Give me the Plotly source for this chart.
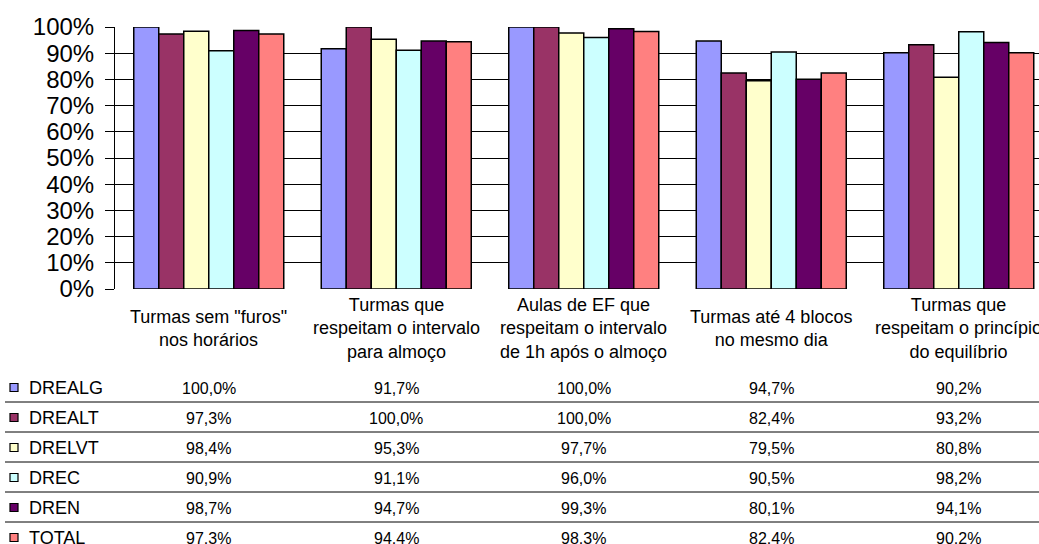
import plotly.graph_objects as go

# ---- data ----
categories = [
    'Turmas sem "furos"<br>nos horários',
    'Turmas que<br>respeitam o intervalo<br>para almoço',
    'Aulas de EF que<br>respeitam o intervalo<br>de 1h após o almoço',
    'Turmas até 4 blocos<br>no mesmo dia',
    'Turmas que<br>respeitam o princípio<br>do equilíbrio',
]
series_names = ['DREALG', 'DREALT', 'DRELVT', 'DREC', 'DREN', 'TOTAL']
drealg = [100.0, 91.7, 100.0, 94.7, 90.2]
drealt = [97.3, 100.0, 100.0, 82.4, 93.2]
drelvt = [98.4, 95.3, 97.7, 79.5, 80.8]
drec = [90.9, 91.1, 96.0, 90.5, 98.2]
dren = [98.7, 94.7, 99.3, 80.1, 94.1]
total = [97.3, 94.4, 98.3, 82.4, 90.2]
series_values = [drealg, drealt, drelvt, drec, dren, total]
colors = ['#9999FF', '#993366', '#FFFFCC', '#CCFFFF', '#660066', '#FF8080']
y_ticks = [0, 10, 20, 30, 40, 50, 60, 70, 80, 90, 100]
y_tick_labels = [f"{t}%" for t in y_ticks]

# ---- layout constants (pixels) ----
W, H = 1039, 544
PL, PT, PB = 115, 27, 289          # plot left, top, bottom in px
PLOT_H = PB - PT
PLOT_W = W - PL
CAT_W = 187.5                       # px per category
FONT = "Liberation Sans, Arial, sans-serif"

def py2paper(py):
    return (PB - py) / PLOT_H

def px2paper(px):
    return (px - PL) / PLOT_W

x_pos = list(range(len(categories)))

fig = go.Figure()
for name, vals, col in zip(series_names, series_values, colors):
    fig.add_trace(go.Bar(
        x=x_pos, y=vals, name=name,
        marker=dict(color=col, line=dict(color='black', width=1.5)),
        showlegend=False,
    ))

annotations = []
shapes = []

# category labels
for i, c in enumerate(categories):
    annotations.append(dict(
        x=i, xref='x', y=py2paper(328), yref='paper',
        text=c, showarrow=False, xanchor='center', yanchor='middle',
        font=dict(family=FONT, size=18, color='black'), align='center',
    ))

# data table
ROW0, ROW_H = 388, 30
for r, (name, vals, col) in enumerate(zip(series_names, series_values, colors)):
    cy = ROW0 + r * ROW_H
    # legend key
    shapes.append(dict(
        type='rect', xref='paper', yref='paper',
        x0=px2paper(10), x1=px2paper(18),
        y0=py2paper(cy + 3.5), y1=py2paper(cy - 4.5),
        fillcolor=col, line=dict(color='black', width=1.2),
    ))
    annotations.append(dict(
        x=px2paper(27), xref='paper', y=py2paper(cy), yref='paper',
        text=name, showarrow=False, xanchor='left', yanchor='middle',
        font=dict(family=FONT, size=18, color='black'),
    ))
    for i, v in enumerate(vals):
        annotations.append(dict(
            x=i, xref='x', y=py2paper(cy), yref='paper',
            text=f"{v:.1f}".replace('.', ',') + '%', showarrow=False,
            xanchor='center', yanchor='middle',
            font=dict(family=FONT, size=16, color='black'),
        ))
    if r < len(series_names) - 1:
        ly = cy + 14
        shapes.append(dict(
            type='line', xref='paper', yref='paper',
            x0=px2paper(5), x1=1.0, y0=py2paper(ly), y1=py2paper(ly),
            line=dict(color='black', width=1),
        ))

fig.update_layout(
    width=W, height=H,
    margin=dict(l=PL, r=0, t=PT, b=H - PB, pad=0),
    paper_bgcolor='white', plot_bgcolor='white',
    barmode='group', bargap=0.2, bargroupgap=0,
    font=dict(family=FONT, color='black'),
    annotations=annotations, shapes=shapes,
    xaxis=dict(
        range=[-0.5, -0.5 + PLOT_W / CAT_W],
        showticklabels=False, showgrid=False, zeroline=False,
        showline=False, ticks='',
    ),
    yaxis=dict(
        range=[0, 100], tickvals=y_ticks, ticktext=y_tick_labels,
        showgrid=True, gridcolor='black', gridwidth=1,
        zeroline=False, showline=True, linecolor='black', linewidth=1,
        ticks='outside', ticklen=9, tickcolor='black', tickwidth=1,
        tickfont=dict(family=FONT, size=24, color='black'),
        ticklabelstandoff=6,
    ),
)

fig.write_html(
    "out.html",
    config={"displayModeBar": False},
    post_script="document.body.style.margin='0';document.body.style.overflow='hidden';",
)
